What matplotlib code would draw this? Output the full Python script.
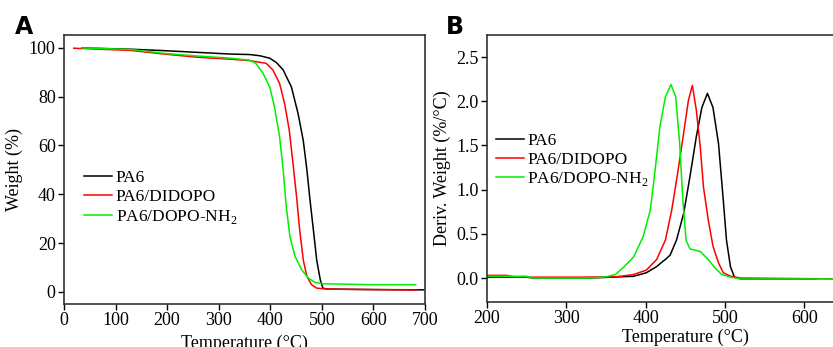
import numpy as np
import matplotlib
matplotlib.use('Agg')
import matplotlib.pyplot as plt

# TGA curves (A): temperature (°C) / weight (%)
t_pa6 = [35, 129, 194, 259, 323, 360, 380, 399, 412, 425, 441, 454, 464, 471, 477, 485, 490, 497, 502, 510, 600, 698]
w_pa6 = [100, 99.5, 98.9, 98.2, 97.5, 97.3, 96.8, 95.8, 94.0, 91.0, 84.0, 73.0, 62.0, 50.0, 37.7, 22.7, 13.0, 4.9, 1.5, 1.1, 0.9, 0.8]

t_di = [19, 129, 194, 259, 323, 360, 392, 405, 418, 428, 437, 444, 451, 457, 464, 471, 480, 490, 510, 600, 685]
w_di = [99.9, 99.0, 97.5, 96.2, 95.4, 94.8, 93.7, 91.0, 85.5, 77.0, 66.0, 52.7, 39.0, 25.4, 13.0, 6.3, 2.9, 1.5, 1.1, 0.9, 0.7]

t_nh = [35, 129, 194, 259, 323, 360, 372, 386, 399, 408, 418, 425, 431, 438, 448, 461, 474, 487, 503, 596, 682]
w_nh = [100, 99.4, 97.8, 96.7, 95.8, 95.0, 93.7, 89.6, 84.0, 76.0, 63.7, 50.0, 35.0, 22.7, 14.5, 9.0, 5.6, 3.8, 3.3, 2.9, 2.9]

# DTG curves (B): temperature (°C) / derivative weight (%/°C)
d_t_pa6 = [200, 250, 258, 330, 385, 401, 414, 422, 425, 431, 439, 448, 456, 464, 471, 478, 485, 492, 498, 502, 507, 512, 520, 615]
d_v_pa6 = [0.01, 0.01, 0.0, 0.0, 0.02, 0.06, 0.13, 0.19, 0.21, 0.26, 0.43, 0.73, 1.15, 1.60, 1.93, 2.09, 1.93, 1.52, 0.88, 0.43, 0.13, 0.01, -0.01, -0.01]

d_t_di = [200, 225, 235, 320, 364, 385, 401, 414, 425, 433, 441, 448, 454, 459, 464, 469, 473, 479, 485, 492, 498, 507, 520, 640]
d_v_di = [0.03, 0.03, 0.01, 0.01, 0.015, 0.04, 0.09, 0.21, 0.43, 0.77, 1.22, 1.64, 2.01, 2.18, 1.90, 1.48, 1.03, 0.66, 0.36, 0.17, 0.06, 0.02, 0.0, -0.01]

d_t_nh = [200, 250, 258, 330, 351, 362, 372, 385, 397, 406, 412, 418, 425, 432, 438, 443, 447, 451, 456, 469, 479, 488, 496, 507, 520, 640]
d_v_nh = [0.02, 0.02, 0.0, 0.0, 0.015, 0.04, 0.12, 0.24, 0.47, 0.77, 1.22, 1.71, 2.05, 2.19, 2.05, 1.52, 0.88, 0.43, 0.33, 0.30, 0.21, 0.11, 0.04, 0.01, -0.01, -0.01]

labels = ['PA6', 'PA6/DIDOPO', 'PA6/DOPO-NH$_2$']
colors = ['black', '#ff0000', '#00ee00']

plt.rcParams['font.family'] = ['Liberation Serif', 'DejaVu Serif']
plt.rcParams['mathtext.fontset'] = 'custom'
plt.rcParams['mathtext.rm'] = 'Liberation Serif'

fig = plt.figure(figsize=(8.33, 3.47), dpi=100)

# Panel A
ax1 = fig.add_axes([0.0768, 0.124, 0.4334, 0.775])
for tx, wy, c, lab in zip([t_pa6, t_di, t_nh], [w_pa6, w_di, w_nh], colors, labels):
    ax1.plot(tx, wy, color=c, lw=1.1, label=lab)
ax1.set_xlim(0, 700)
ax1.set_ylim(-5, 105.3)
ax1.set_xticks(range(0, 701, 100))
ax1.set_yticks(range(0, 101, 20))
ax1.set_xlabel('Temperature (°C)', fontsize=13, labelpad=4)
ax1.set_ylabel('Weight (%)', fontsize=13, labelpad=4)
ax1.legend(loc='upper left', bbox_to_anchor=(0.037, 0.523), frameon=False, fontsize=12.5,
           handlelength=1.6, handletextpad=0.2, labelspacing=0.15, borderaxespad=0)

# Panel B (right part cropped by the figure edge)
ax2 = fig.add_axes([0.5846, 0.13, 0.476, 0.769])
for tx, vy, c, lab in zip([d_t_pa6, d_t_di, d_t_nh], [d_v_pa6, d_v_di, d_v_nh], colors, labels):
    ax2.plot(tx, vy, color=c, lw=1.1, label=lab)
ax2.set_xlim(200, 700)
ax2.set_ylim(-0.27, 2.75)
ax2.set_xticks(range(200, 601, 100))
ax2.set_yticks(np.arange(0, 2.51, 0.5))
ax2.set_yticklabels(['0.0', '0.5', '1.0', '1.5', '2.0', '2.5'])
ax2.set_xlabel('Temperature (°C)', fontsize=13, labelpad=1)
ax2.set_ylabel('Deriv. Weight (%/°C)', fontsize=13, labelpad=4)
ax2.legend(loc='upper left', bbox_to_anchor=(0.005, 0.66), frameon=False, fontsize=12.5,
           handlelength=1.6, handletextpad=0.2, labelspacing=0.15, borderaxespad=0)

for ax in (ax1, ax2):
    ax.tick_params(direction='out', length=4, width=1, labelsize=13, top=False, right=False, pad=2)
    for s in ax.spines.values():
        s.set_linewidth(1.2)
        s.set_color('#333333')

fig.text(0.018, 0.902, 'A', fontsize=17, fontweight='bold', family='DejaVu Sans')
fig.text(0.535, 0.902, 'B', fontsize=17, fontweight='bold', family='DejaVu Sans')

fig.savefig('out.png', dpi=100)
